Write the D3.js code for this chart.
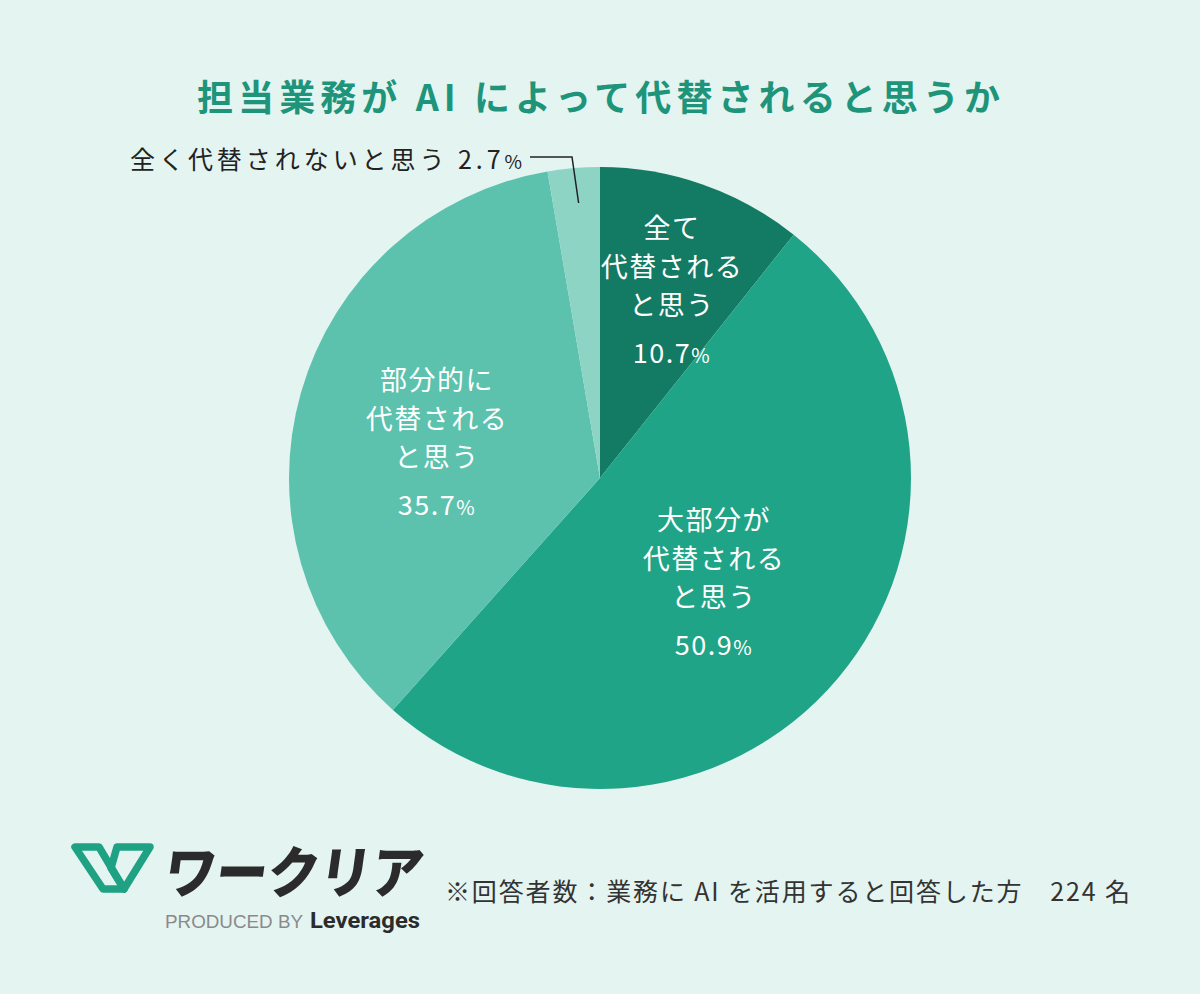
<!DOCTYPE html>
<html><head><meta charset="utf-8">
<script src="https://cdn.jsdelivr.net/npm/d3@7"></script>
<style>
html,body{margin:0;padding:0;background:#e4f4f1;}
svg{display:block;}
</style></head>
<body>
<script>
const categories = ["全て代替されると思う","大部分が代替されると思う","部分的に代替されると思う","全く代替されないと思う"];
const labelLines = [["全て","代替される","と思う"],["大部分が","代替される","と思う"],["部分的に","代替される","と思う"],["全く代替されないと思う"]];
const values = [10.7, 50.9, 35.7, 2.7];
const colors = ["#137a63","#20a487","#5cc2ad","#8dd4c5"];
const title = "担当業務が AI によって代替されると思うか";
const note = "※回答者数：業務に AI を活用すると回答した方　224 名";

const W = 1200, H = 994;
const svg = d3.select("body").append("svg").attr("width", W).attr("height", H);
svg.append("rect").attr("width", W).attr("height", H).attr("fill", "#e4f4f1");

const font = "'Noto Sans CJK JP','Noto Sans',sans-serif";

svg.append("text").attr("x", 197).attr("y", 111)
  .attr("font-family", font).attr("font-weight", 700).attr("font-size", 36)
  .attr("fill", "#1e947a").attr("textLength", 803).attr("lengthAdjust","spacing").text(title);

const cx = 600, cy = 478, R = 311;
const pie = d3.pie().sort(null).value(d => d);
const arcs = pie(values);
const arc = d3.arc().innerRadius(0).outerRadius(R);
const g = svg.append("g").attr("transform", `translate(${cx},${cy})`);
g.selectAll("path").data(arcs).join("path").attr("d", arc).attr("fill", (d,i) => colors[i]);

// in-slice labels (offsets from pie centre)
const labelOffsets = [[72, -240], [114, 52], [-163, -88]];
const lineH = 38.5;
[0,1,2].forEach(i => {
  const [x, y] = labelOffsets[i];
  const gg = g.append("g").attr("transform", `translate(${x},${y})`);
  labelLines[i].forEach((t, k) => {
    gg.append("text").attr("x", 0).attr("y", k * lineH).attr("text-anchor","middle")
      .attr("font-family", font).attr("font-size", 27).attr("letter-spacing", 1.5)
      .attr("fill", "#fff").text(t);
  });
  const pt = gg.append("text").attr("x", 0).attr("y", 3 * lineH + 9).attr("text-anchor","middle")
    .attr("font-family", font).attr("font-size", 27).attr("fill", "#fff").attr("letter-spacing", 1.5);
  pt.append("tspan").text(d3.format(".1f")(values[i]));
  pt.append("tspan").attr("font-size", 20).text("%");
});

// outside label for small slice
const small = arcs[3];
const smid = (small.startAngle + small.endAngle) / 2;
const lx = Math.sin(smid) * (R - 35), ly = -Math.cos(smid) * (R - 35);
g.append("path")
  .attr("d", `M${-70},${-321} L${-28},${-321} L${lx + 2},${ly}`)
  .attr("fill","none").attr("stroke","#222").attr("stroke-width",1.5);
const ot = g.append("text").attr("x", -470).attr("y", -309)
  .attr("font-family", font).attr("font-size", 25).attr("fill", "#222")
  .attr("textLength", 392).attr("lengthAdjust","spacing");
ot.append("tspan").text(labelLines[3][0] + " " + d3.format(".1f")(values[3]));
ot.append("tspan").attr("font-size", 19).text("%");

// logo
const logo = svg.append("g");
logo.append("path")
  .attr("d", "M75,847 L99,847 L124,889 L103,889 Z")
  .attr("fill","none").attr("stroke","#1fa184").attr("stroke-width",7.5).attr("stroke-linejoin","round");
logo.append("path")
  .attr("d", "M117,847 L150,847 L124,889 L111,868 Z")
  .attr("fill","none").attr("stroke","#1fa184").attr("stroke-width",7.5).attr("stroke-linejoin","round");
logo.append("text").attr("transform", "translate(162,893) skewX(-8)")
  .attr("font-family", font).attr("font-weight", 900).attr("font-size", 56)
  .attr("fill", "#2b2b2b").attr("textLength", 258).attr("lengthAdjust","spacingAndGlyphs")
  .text("ワークリア");
logo.append("text").attr("x", 165).attr("y", 928)
  .attr("font-family", "'Liberation Sans',sans-serif").attr("font-size", 19)
  .attr("fill", "#8a8a8a").attr("textLength", 138).attr("lengthAdjust","spacingAndGlyphs").text("PRODUCED BY");
logo.append("text").attr("x", 310).attr("y", 928)
  .attr("font-family", "Roboto,'Liberation Sans',sans-serif").attr("font-weight", 700).attr("font-size", 22)
  .attr("fill", "#2b2b2b").attr("textLength", 110).attr("lengthAdjust","spacingAndGlyphs").text("Leverages");

svg.append("text").attr("x", 445).attr("y", 901)
  .attr("font-family", font).attr("font-size", 25).attr("fill", "#333")
  .attr("textLength", 685).attr("lengthAdjust","spacing")
  .text(note);
</script>
</body></html>
